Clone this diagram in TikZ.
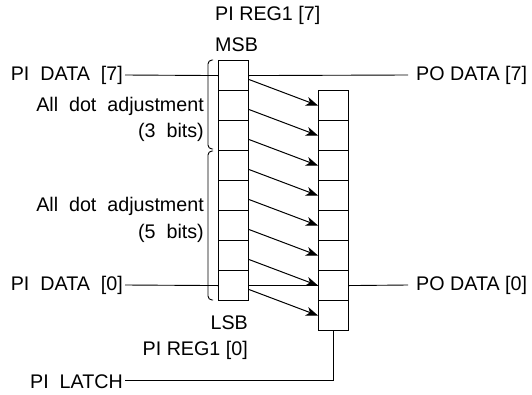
\documentclass[tikz,border=0pt]{standalone}
\usepackage{fontspec}
\setmainfont{Liberation Sans}
\usetikzlibrary{arrows.meta}
\begin{document}
\begin{tikzpicture}[x=1pt,y=-1pt,
  cell/.style={draw, fill=white, minimum width=30pt, minimum height=30pt, inner sep=0pt, line width=1.1pt, anchor=north west},
  lbl/.style={font=\fontsize{19.7}{22}\selectfont, inner sep=0pt},
  wire/.style={line width=0.9pt},
  arr/.style={line width=1pt, -{Stealth[length=12pt,width=9pt,inset=3.5pt]}}]
\useasboundingbox (0,0) rectangle (532,394);
% registers
\foreach \i in {0,...,7} {
  \node[cell] (L\i) at (218,{60+30*\i}) {};
  \node[cell] (R\i) at (318,{90+30*\i}) {};
}
% labels
\node[lbl, anchor=east] (pid7) at (123,75.5) {PI\ \ DATA\ \ [7]};
\node[lbl, anchor=east] (pid0) at (123,285.5) {PI\ \ DATA\ \ [0]};
\node[lbl, anchor=east] (latch) at (123,381.5) {PI\ \ LATCH};
\node[lbl, anchor=west] (pod7) at (416,75.5) {PO DATA [7]};
\node[lbl, anchor=west] (pod0) at (416,285.5) {PO DATA [0]};
\node[lbl, anchor=west] (reg7) at (215,15.5) {PI REG1 [7]};
\node[lbl, anchor=west] (msb) at (215,45) {MSB};
\node[lbl, anchor=east] (lsb) at (248,323) {LSB};
\node[lbl, anchor=east] (reg0) at (248,350) {PI REG1 [0]};
\node[lbl, anchor=east] (adj3) at (204,106) {All\ \ dot\ \ adjustment};
\node[lbl, anchor=east] (b3) at (204,132) {(3\ \ bits)};
\node[lbl, anchor=east] (adj5) at (204,206) {All\ \ dot\ \ adjustment};
\node[lbl, anchor=east] (b5) at (204,233) {(5\ \ bits)};
% wires
\draw[wire] ([xshift=2pt]pid7.east |- 0,75) -- (L0.west);
\draw[wire] (L0.east) -- ([xshift=-8pt]pod7.west |- 0,75);
\draw[wire] ([xshift=2pt]pid0.east |- 0,285) -- (L7.west);
\draw[wire] (L7.east) -- (R6.west);
\draw[wire] (R6.east) -- ([xshift=-8pt]pod0.west |- 0,285);
\draw[wire] ([xshift=2pt]latch.east |- 0,380) -| (R7.south);
% arrows
\foreach \i in {0,...,7} {
  \draw[arr] ([yshift=-4pt]L\i.east) -- (R\i.west);
}
% braces
\draw[wire, rounded corners=4pt] (213,60) -- (208,60) -- (208,149) -- (213,149);
\draw[wire, rounded corners=4pt] (213,151) -- (208,151) -- (208,300) -- (213,300);
\end{tikzpicture}
\end{document}
